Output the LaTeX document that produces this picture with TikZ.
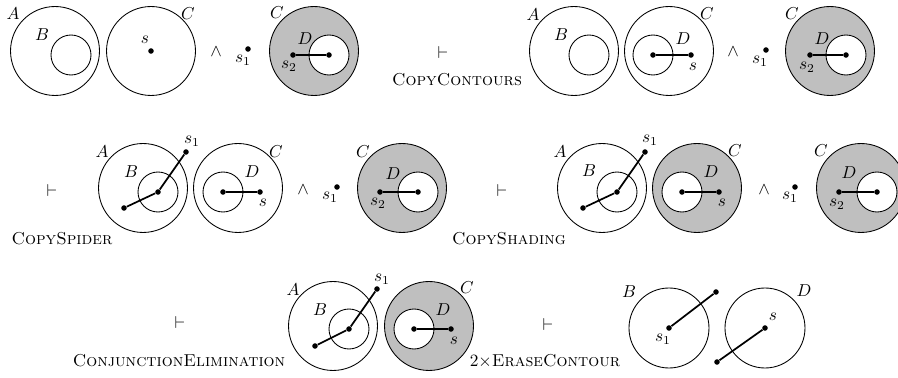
\documentclass[tikz,border=0pt]{standalone}
\usepackage{amsmath}
\usepackage{xcolor}
\usepackage{tikz}

\begin{document}
\begin{tikzpicture}[
  x=0.58pt, y=-0.58pt,
  font=\normalsize,
  big/.style={draw, circle, line width=0.5pt, minimum size=51.6pt, inner sep=0pt},
  mid/.style={draw, circle, line width=0.5pt, minimum size=46.4pt, inner sep=0pt},
  small/.style={draw, circle, line width=0.5pt, minimum size=23.2pt, inner sep=0pt},
  shaded/.style={fill=black!25},
  hole/.style={fill=white},
  dot/.style={circle, fill, inner sep=0pt, minimum size=3.2pt},
  leg/.style={line width=1pt}
]
\clip (0,0) rectangle (898,378);

% first line: premises
\node[big] (a1) at (55,51) {};
\node[small] (b1) at (71,55) {};
\node[big] (c1) at (151,51) {};
\node[dot] (s1) at (151,51) {};
\node at (13,14) {$A$};
\node at (42,35) {$B$};
\node at (188,14) {$C$};
\node at (145,40) {$s$};
\node (and1) at (216,52) {$\wedge$};
\node[dot] (x1) at (248,49) {};
\node at (243,60) {$s_1$};
\node[big, shaded] (c2) at (314,51) {};
\node[small, hole] (d2) at (329,55) {};
\node[dot] (y1) at (293,55) {};
\node[dot] (y2) at (329,55) {};
\node at (277,13) {$C$};
\node at (305,39) {$D$};
\node at (289,66) {$s_2$};

% first line: after copying contours
\node (vd1) at (443,53) {$\vdash$};
\node (r1) at (457,80) {\textsc{CopyContours}};
\node[big] (a3) at (574,51) {};
\node[small] (b3) at (589,55) {};
\node[big] (c3) at (669,51) {};
\node[small] (d3) at (653,55) {};
\node[dot] (z1) at (653,55) {};
\node[dot] (z2) at (691,55) {};
\node at (533,15) {$A$};
\node at (561,35) {$B$};
\node at (707,14) {$C$};
\node at (683,39) {$D$};
\node at (693,67) {$s$};
\node (and2) at (733,52) {$\wedge$};
\node[dot] (x2) at (766,50) {};
\node at (760,61) {$s_1$};
\node[big, shaded] (c4) at (830,51) {};
\node[small, hole] (d4) at (846,55) {};
\node[dot] (w1) at (810,55) {};
\node[dot] (w2) at (846,55) {};
\node at (792,14) {$C$};
\node at (822,39) {$D$};
\node at (807,67) {$s_2$};

% second line: after copying the spider
\node (vd2) at (52,191) {$\vdash$};
\node (r2) at (62,239) {\textsc{CopySpider}};
\node[big] (a5) at (143,188) {};
\node[small] (b5) at (158,192) {};
\node[dot] (e1) at (158,192) {};
\node[dot] (e2) at (124,208) {};
\node[dot] (e3) at (186,152) {};
\node at (102,152) {$A$};
\node at (131,172) {$B$};
\node at (192,141) {$s_1$};
\node[big] (c5) at (238,188) {};
\node[small] (d5) at (223,192) {};
\node[dot] (f1) at (223,192) {};
\node[dot] (f2) at (260,192) {};
\node at (276,152) {$C$};
\node at (252,172) {$D$};
\node at (263,203) {$s$};
\node (and3) at (303,190) {$\wedge$};
\node[dot] (x3) at (337,187) {};
\node at (330,197) {$s_1$};
\node[big, shaded] (c6) at (402,188) {};
\node[small, hole] (d6) at (418,192) {};
\node[dot] (g1) at (380,192) {};
\node[dot] (g2) at (418,192) {};
\node at (363,152) {$C$};
\node at (393,174) {$D$};
\node at (378,203) {$s_2$};

% second line: after copying the shading
\node (vd3) at (502,191) {$\vdash$};
\node (r3) at (509,239) {\textsc{CopyShading}};
\node[big] (a7) at (602,188) {};
\node[small] (b7) at (617,192) {};
\node[dot] (h1) at (617,192) {};
\node[dot] (h2) at (583,208) {};
\node[dot] (h3) at (645,152) {};
\node at (560,152) {$A$};
\node at (589,171) {$B$};
\node at (650,140) {$s_1$};
\node[big, shaded] (c7) at (697,188) {};
\node[small, hole] (d7) at (682,192) {};
\node[dot] (k1) at (682,192) {};
\node[dot] (k2) at (719,192) {};
\node at (735,151) {$C$};
\node at (711,172) {$D$};
\node at (722,203) {$s$};
\node (and4) at (764,190) {$\wedge$};
\node[dot] (x4) at (795,187) {};
\node at (790,197) {$s_1$};
\node[big, shaded] (c8) at (861,188) {};
\node[small, hole] (d8) at (877,192) {};
\node[dot] (m1) at (839,192) {};
\node[dot] (m2) at (877,192) {};
\node at (821,151) {$C$};
\node at (849,173) {$D$};
\node at (837,204) {$s_2$};

% third line: conjunction elimination
\node (vd4) at (180,323) {$\vdash$};
\node (r4) at (179,361) {\textsc{ConjunctionElimination}};
\node[big] (a9) at (333,326) {};
\node[small] (b9) at (349,329) {};
\node[dot] (n1) at (349,329) {};
\node[dot] (n2) at (315,346) {};
\node[dot] (n3) at (377,289) {};
\node at (293,290) {$A$};
\node at (320,310) {$B$};
\node at (382,279) {$s_1$};
\node[big, shaded] (c9) at (429,326) {};
\node[small, hole] (d9) at (414,329) {};
\node[dot] (o1) at (414,329) {};
\node[dot] (o2) at (451,329) {};
\node at (467,288) {$C$};
\node at (443,310) {$D$};
\node at (454,341) {$s$};

% third line: erasing two contours
\node (vd5) at (548,325) {$\vdash$};
\node (r5) at (545,361) {$2\times$\textsc{EraseContour}};
\node[mid] (b10) at (669,328) {};
\node[dot] (q1) at (669,328) {};
\node[dot] (q2) at (716,292) {};
\node at (629,292) {$B$};
\node at (663,339) {$s_1$};
\node[mid] (d10) at (765,328) {};
\node[dot] (v1) at (765,328) {};
\node[dot] (v2) at (717,362) {};
\node at (804,291) {$D$};
\node at (773,317) {$s$};

% spider legs
\draw[leg] (y1) -- (y2);
\draw[leg] (z1) -- (z2);
\draw[leg] (w1) -- (w2);
\draw[leg] (e2) -- (e1) -- (e3);
\draw[leg] (f1) -- (f2);
\draw[leg] (g1) -- (g2);
\draw[leg] (h2) -- (h1) -- (h3);
\draw[leg] (k1) -- (k2);
\draw[leg] (m1) -- (m2);
\draw[leg] (n2) -- (n1) -- (n3);
\draw[leg] (o1) -- (o2);
\draw[leg] (q1) -- (q2);
\draw[leg] (v1) -- (v2);
\end{tikzpicture}
\end{document}
